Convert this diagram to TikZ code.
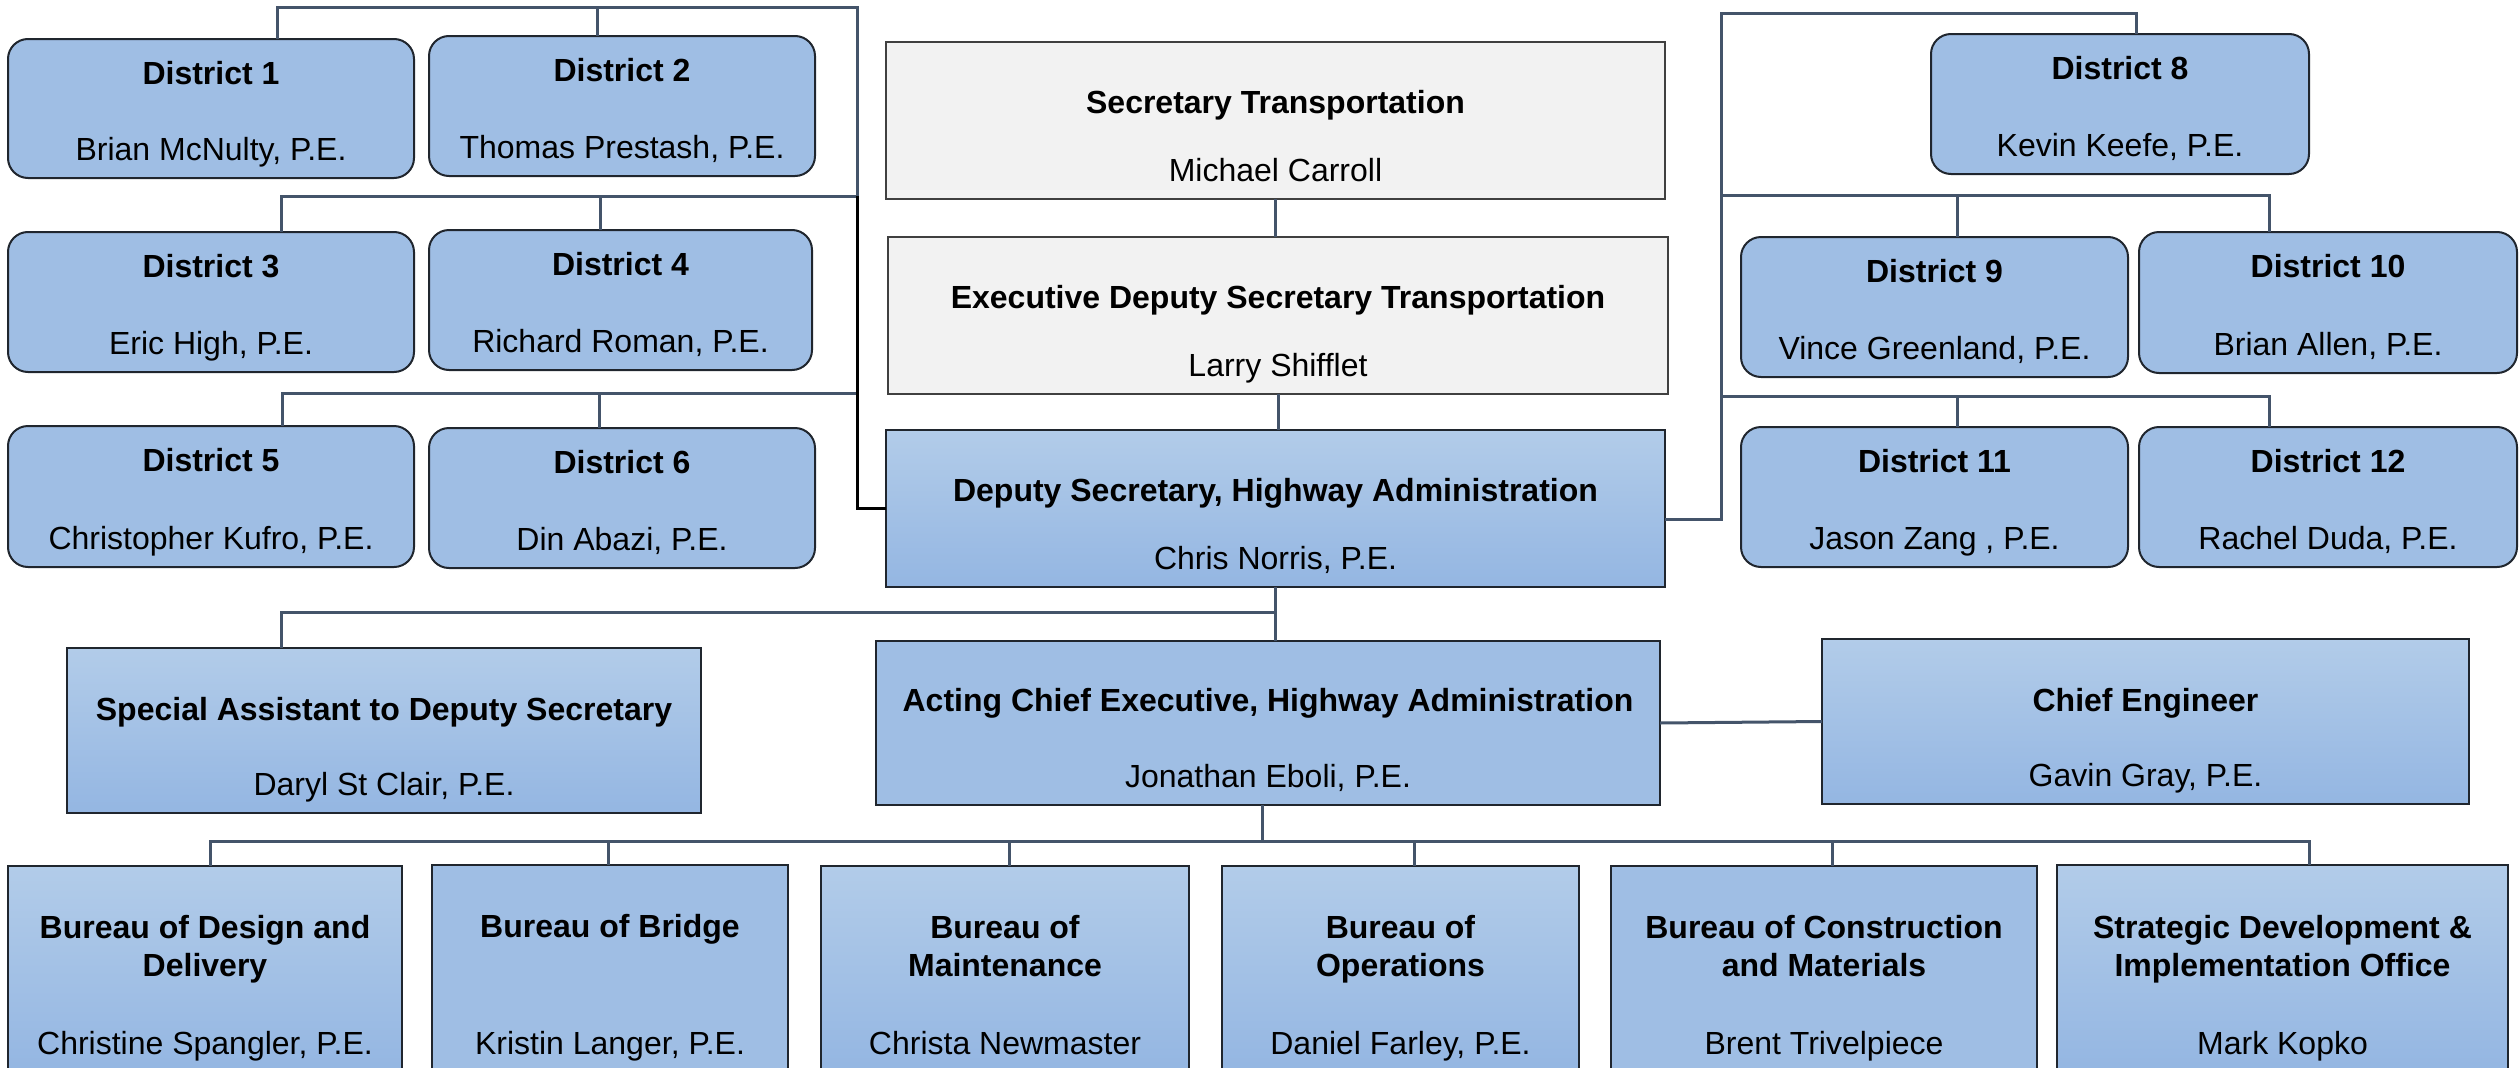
\documentclass[tikz,border=0pt]{standalone}
\usepackage{fontspec}
\setmainfont{Liberation Sans}
\definecolor{flatblue}{HTML}{9FBEE4}
\definecolor{gtop}{HTML}{B2CCE9}
\definecolor{gbot}{HTML}{94B6E2}
\definecolor{grayf}{HTML}{F2F2F2}
\definecolor{bordc}{HTML}{20262E}
\definecolor{connc}{HTML}{44546A}
\newcommand\orgunit[8]{%
  \node[#2, minimum width=#4pt, minimum height=#5pt] (#1) at (#3) {};
  \node[ttl] (#1-t) at ([yshift=-#8pt]#1.north) {#6};
  \node[nm] (#1-n) at ([yshift=18pt]#1.south) {#7};
}
\begin{document}
\begin{tikzpicture}[x=1pt,y=-1pt,
  every node/.style={inner sep=0pt, outer sep=0pt},
  box/.style={draw=bordc, line width=2pt, anchor=north west},
  dbox/.style={box, fill=flatblue, rounded corners=20pt},
  gbox/.style={box, fill=grayf, draw=black!75},
  fbox/.style={box, fill=flatblue},
  sbox/.style={box, top color=gtop, bottom color=gbot},
  ttl/.style={font=\fontsize{32}{38}\selectfont\bfseries, anchor=base, align=center},
  nm/.style={font=\fontsize{32}{38}\selectfont, anchor=base},
  conn/.style={draw=connc, line width=3pt},
  connk/.style={draw=black, line width=3pt},
]
\useasboundingbox (0,0) rectangle (2519,1068);
% left districts
\orgunit{d1}{dbox}{8,39}{406}{139}{District 1}{Brian McNulty, P.E.}{45}
\orgunit{d2}{dbox}{429,36}{386}{140}{District 2}{Thomas Prestash, P.E.}{45}
\orgunit{d3}{dbox}{8,232}{406}{140}{District 3}{Eric High, P.E.}{45}
\orgunit{d4}{dbox}{429,230}{383}{140}{District 4}{Richard Roman, P.E.}{45}
\orgunit{d5}{dbox}{8,426}{406}{141}{District 5}{Christopher Kufro, P.E.}{45}
\orgunit{d6}{dbox}{429,428}{386}{140}{District 6}{Din Abazi, P.E.}{45}
% centre column
\orgunit{sec}{gbox}{886,42}{779}{157}{Secretary Transportation}{Michael Carroll}{71}
\orgunit{exec}{gbox}{888,237}{780}{157}{Executive Deputy Secretary Transportation}{Larry Shifflet}{71}
\orgunit{dep}{sbox}{886,430}{779}{157}{Deputy Secretary, Highway Administration}{Chris Norris, P.E.}{71}
% right districts
\orgunit{d8}{dbox}{1931,34}{378}{140}{District 8}{Kevin Keefe, P.E.}{45}
\orgunit{d9}{dbox}{1741,237}{387}{140}{District 9}{Vince Greenland, P.E.}{45}
\orgunit{d10}{dbox}{2139,232}{378}{141}{District 10}{Brian Allen, P.E.}{45}
\orgunit{d11}{dbox}{1741,427}{387}{140}{District 11}{Jason Zang , P.E.}{45}
\orgunit{d12}{dbox}{2139,427}{378}{140}{District 12}{Rachel Duda, P.E.}{45}
% middle row
\orgunit{spa}{sbox}{67,648}{634}{165}{Special Assistant to Deputy Secretary}{Daryl St Clair, P.E.}{72}
\orgunit{ace}{fbox}{876,641}{784}{164}{Acting Chief Executive, Highway Administration}{Jonathan Eboli, P.E.}{70}
\orgunit{che}{sbox}{1822,639}{647}{165}{Chief Engineer}{Gavin Gray, P.E.}{72}
% bureaus
\orgunit{bdd}{sbox}{8,866}{394}{206}{Bureau of Design and\\Delivery}{Christine Spangler, P.E.}{110}
\orgunit{bbr}{fbox}{432,865}{356}{207}{Bureau of Bridge}{Kristin Langer, P.E.}{72}
\orgunit{bma}{sbox}{821,866}{368}{206}{Bureau of\\Maintenance}{Christa Newmaster}{110}
\orgunit{bop}{sbox}{1222,866}{357}{206}{Bureau of\\Operations}{Daniel Farley, P.E.}{110}
\orgunit{bcm}{fbox}{1611,866}{426}{206}{Bureau of Construction\\and Materials}{Brent Trivelpiece}{110}
\orgunit{sdi}{sbox}{2057,865}{451}{207}{Strategic Development \&\\Implementation Office}{Mark Kopko}{111}

% left district tree
\coordinate (LT) at (857,7);
\coordinate (L1) at (277,7);
\coordinate (L2) at (597,7);
\coordinate (LR2) at (857,196);
\coordinate (L3) at (281,196);
\coordinate (L4) at (600,196);
\coordinate (LR3) at (857,393);
\coordinate (L5) at (282,393);
\coordinate (L6) at (599,393);
\draw[conn] (L1 |- d1.north) -- (L1) -- (LT) -- (LR2);
\draw[conn] (L2) -- (L2 |- d2.north);
\draw[conn] (L3 |- d3.north) -- (L3) -- (LR2);
\draw[conn] (L4) -- (L4 |- d4.north);
\draw[conn] (L5 |- d5.north) -- (L5) -- (LR3);
\draw[conn] (L6) -- (L6 |- d6.north);
\draw[connk] (LR2) -- (LT |- dep.west) -- (dep.west);

% right district tree
\coordinate (RT) at (1721,13);
\coordinate (R8) at (2136,13);
\coordinate (RR2) at (1721,195);
\coordinate (R9) at (1957,195);
\coordinate (R10) at (2269,195);
\coordinate (RR3) at (1721,396);
\coordinate (R11) at (1957,396);
\coordinate (R12) at (2269,396);
\draw[conn] ([yshift=-10.5pt]dep.east) -| (RT) -- (R8) -- (R8 |- d8.north);
\draw[conn] (RR2) -- (R10) -- (R10 |- d10.north);
\draw[conn] (R9) -- (R9 |- d9.north);
\draw[conn] (RR3) -- (R12) -- (R12 |- d12.north);
\draw[conn] (R11) -- (R11 |- d11.north);

% centre column
\draw[conn] (sec.south) -- (sec.south |- exec.north);
\draw[conn] (exec.south) -- (exec.south |- dep.north);
\draw[conn] (dep.south) -- (dep.south |- ace.north);
\coordinate (SA) at (281,612);
\draw[conn] (SA |- spa.north) -- (SA) -- (dep.south |- SA);
\draw[conn] (ace.east) -- (che.west);

% bureaus
\coordinate (BT) at (1262,841);
\coordinate (B1) at (210,841);
\coordinate (B2) at (608,841);
\coordinate (B3) at (1009,841);
\coordinate (B4) at (1414,841);
\coordinate (B5) at (1832,841);
\coordinate (B6) at (2309,841);
\draw[conn] (BT |- ace.south) -- (BT);
\draw[conn] (B1 |- bdd.north) -- (B1) -- (B6) -- (B6 |- sdi.north);
\draw[conn] (B2) -- (B2 |- bbr.north);
\draw[conn] (B3) -- (B3 |- bma.north);
\draw[conn] (B4) -- (B4 |- bop.north);
\draw[conn] (B5) -- (B5 |- bcm.north);
\end{tikzpicture}
\end{document}
